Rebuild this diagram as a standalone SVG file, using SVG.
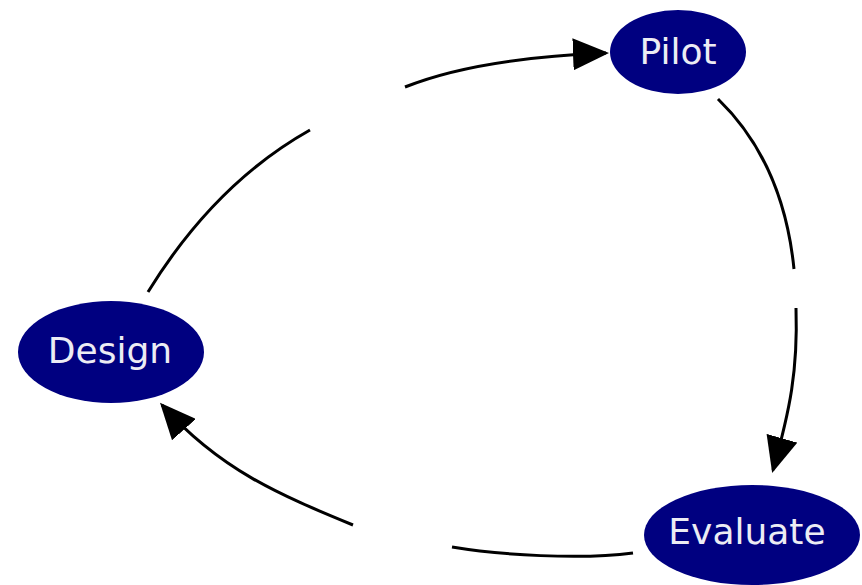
<svg xmlns="http://www.w3.org/2000/svg" width="862" height="585" viewBox="0 0 862 585">
<style>
.node{fill:#000080;}
.lbl{font-family:"DejaVu Sans",Verdana,sans-serif;font-size:36px;fill:#ececf4;text-anchor:middle;}
.edge{fill:none;stroke:#000;stroke-width:3;stroke-linecap:butt;}
</style>
<defs>
<marker id="ah" viewBox="0 0 36 32" refX="33" refY="16" markerWidth="36" markerHeight="32" markerUnits="userSpaceOnUse" orient="auto">
<path d="M0,0 L36,16 L0,32 Z" fill="#000"/>
</marker>
</defs>
<rect width="862" height="585" fill="#fff"/>
<g id="connectors">
<path class="edge" d="M148,292 C180,240 230,175 310,130"/>
<path class="edge" d="M405,87 C460,65 530,56 606,53" marker-end="url(#ah)"/>
<path class="edge" d="M718,99 C750,130 785,180 794,269"/>
<path class="edge" d="M796,308 C798,370 790,410 773,470" marker-end="url(#ah)"/>
<path class="edge" d="M633,553 C580,560 500,555 452,547"/>
<path class="edge" d="M353,525 C280,495 220,470 162,405" marker-end="url(#ah)"/>
</g>
<g id="pilot">
<ellipse class="node" cx="678" cy="52" rx="68" ry="42"/>
<text class="lbl" x="678" y="64">Pilot</text>
</g>
<g id="design">
<ellipse class="node" cx="111" cy="352" rx="93" ry="51"/>
<text class="lbl" x="110" y="363">Design</text>
</g>
<g id="evaluate">
<ellipse class="node" cx="752" cy="535" rx="108" ry="50"/>
<text class="lbl" x="747" y="544">Evaluate</text>
</g>
</svg>
